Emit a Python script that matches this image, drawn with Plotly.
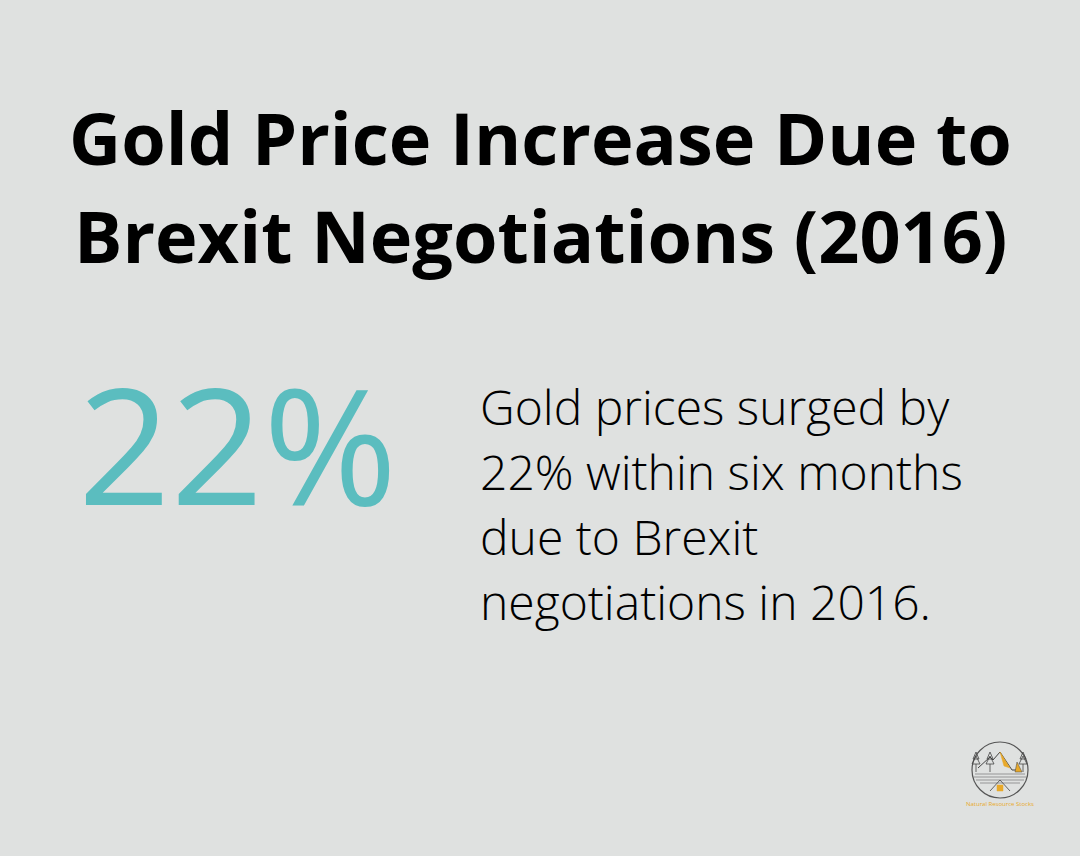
import plotly.graph_objects as go

# content
title_lines = ['Gold Price Increase Due to', 'Brexit Negotiations (2016)']
stat_value = 22
body_lines = ['Gold prices surged by', '22% within six months',
              'due to Brexit', 'negotiations in 2016.']
brand = 'Natural Resource Stocks'

BG = '#DFE1E0'
TEAL = '#5BBDBF'
GOLD = '#E8A92A'

fig = go.Figure()

# title, centered
title_y = [137, 235]
for line, y in zip(title_lines, title_y):
    fig.add_annotation(x=540, y=y, text=line, showarrow=False,
                       xanchor='center', yanchor='middle',
                       font=dict(family='Open Sans', size=72, color='#000000', weight=700))

# big number
fig.add_annotation(x=76, y=442, text=f'{stat_value}%', showarrow=False,
                   xanchor='left', yanchor='middle',
                   font=dict(family='Open Sans', size=162, color=TEAL, weight=500))

# description text
body_y = [406, 471, 536, 601]
for line, y in zip(body_lines, body_y):
    fig.add_annotation(x=478, y=y, text=line, showarrow=False,
                       xanchor='left', yanchor='middle',
                       font=dict(family='Open Sans', size=48, color='#000000', weight=300))

# small logo in the bottom right corner
cx, cy, r = 1000, 770, 28
fig.add_shape(type='circle', x0=cx - r, x1=cx + r, y0=cy - r, y1=cy + r,
              line=dict(color='#555555', width=1.2))
# mountains
fig.add_shape(type='path', path='M 978 768 L 990 757 L 993 760 L 1000 752 L 1012 770 L 1020 770',
              line=dict(color='#444444', width=1))
fig.add_shape(type='path', path='M 1000 752 L 1004 766 L 1010 768 Z',
              fillcolor=GOLD, line=dict(color=GOLD, width=0.5))
fig.add_shape(type='path', path='M 1017 762 L 1022 772 L 1015 772 Z',
              fillcolor=GOLD, line=dict(color='#444444', width=0.5))
# trees
for tx in [976, 990, 1023]:
    fig.add_shape(type='path',
                  path=f'M {tx} 752 L {tx - 3} 759 L {tx + 3} 759 Z M {tx} 756 L {tx - 4} 764 L {tx + 4} 764 Z M {tx} 764 L {tx} 772',
                  line=dict(color='#444444', width=0.8))
# water lines
for ly, lx0, lx1 in [(774, 975, 1025), (777, 974, 1026), (780, 976, 1024), (783, 980, 1020)]:
    fig.add_shape(type='line', x0=lx0, x1=lx1, y0=ly, y1=ly,
                  line=dict(color='#777777', width=0.7))
# tent
fig.add_shape(type='path', path='M 990 791 L 1000 780 L 1010 791',
              line=dict(color='#444444', width=0.8))
fig.add_shape(type='rect', x0=997, x1=1003, y0=785, y1=791,
              fillcolor=GOLD, line=dict(color=GOLD, width=0.5))
fig.add_annotation(x=cx, y=804, text=brand, showarrow=False,
                   xanchor='center', yanchor='middle',
                   font=dict(family='Open Sans', size=6, color=GOLD))

fig.update_layout(
    width=1080, height=856,
    margin=dict(l=0, r=0, t=0, b=0),
    paper_bgcolor=BG, plot_bgcolor=BG,
    xaxis=dict(range=[0, 1080], visible=False, fixedrange=True),
    yaxis=dict(range=[856, 0], visible=False, fixedrange=True),
    showlegend=False,
)

# drop the default page margin so the figure fills the window
fig.write_html('out.html', config={'displayModeBar': False},
               post_script="document.body.style.margin='0';document.body.style.background='#DFE1E0';")
